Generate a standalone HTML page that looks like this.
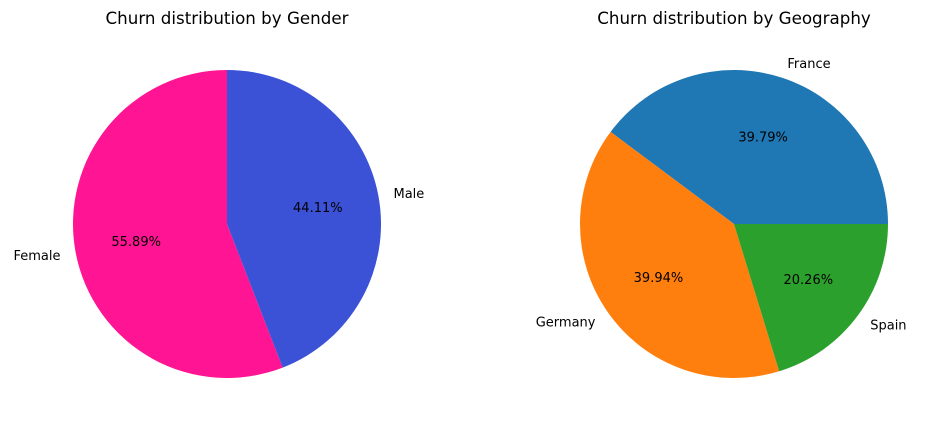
<!DOCTYPE html>
<html><head><meta charset="utf-8"><style>
html,body{margin:0;padding:0;background:#fff;}
svg{display:block;font-family:"DejaVu Sans","Liberation Sans",sans-serif;}
</style></head><body>
<svg id="chart" width="936" height="427" viewBox="0 0 936 427">
<text x="227" y="24" text-anchor="middle" font-size="16.7" fill="#000">Churn distribution by Gender</text>
<text x="734" y="24" text-anchor="middle" font-size="16.7" fill="#000">Churn distribution by Geography</text>
</svg>
<script>
const genderLabels = ["Female", "Male"];
const genderValues = [55.89, 44.11];
const genderColors = ["#ff1493", "#3b52d6"];
const geoLabels = ["France", "Germany", "Spain"];
const geoValues = [39.79, 39.94, 20.26];
const geoColors = ["#1f77b4", "#ff7f0e", "#2ca02c"];

const NS = "http://www.w3.org/2000/svg";
const svg = document.getElementById("chart");

function drawPie(cx, cy, r, labels, values, colors, startDeg, prefix) {
  const total = values.reduce((a, b) => a + b, 0);
  let a = startDeg;
  values.forEach((v, i) => {
    const sweep = v / total * 360;
    const a0 = a * Math.PI / 180, a1 = (a + sweep) * Math.PI / 180;
    const x0 = cx + r * Math.cos(a0), y0 = cy - r * Math.sin(a0);
    const x1 = cx + r * Math.cos(a1), y1 = cy - r * Math.sin(a1);
    const large = sweep > 180 ? 1 : 0;
    const p = document.createElementNS(NS, "path");
    p.setAttribute("d", `M${cx},${cy} L${x0},${y0} A${r},${r} 0 ${large} 0 ${x1},${y1} Z`);
    p.setAttribute("fill", colors[i]);
    
    
    svg.appendChild(p);
    const mid = (a + sweep / 2) * Math.PI / 180;
    const lx = cx + 1.1 * r * Math.cos(mid), ly = cy - 1.1 * r * Math.sin(mid);
    const t = document.createElementNS(NS, "text");
    t.setAttribute("x", lx);
    t.setAttribute("y", ly + 5);
    t.setAttribute("font-size", "13");
    t.setAttribute("text-anchor", Math.cos(mid) >= 0 ? "start" : "end");
    t.textContent = labels[i];
    
    
    svg.appendChild(t);
    const px = cx + 0.6 * r * Math.cos(mid), py = cy - 0.6 * r * Math.sin(mid);
    const pt = document.createElementNS(NS, "text");
    pt.setAttribute("x", px);
    pt.setAttribute("y", py + 5);
    pt.setAttribute("font-size", "13");
    pt.setAttribute("text-anchor", "middle");
    pt.textContent = v.toFixed(2) + "%";
    
    
    svg.appendChild(pt);
    a += sweep;
  });
}
drawPie(227, 224, 154, genderLabels, genderValues, genderColors, 90, "gender");
drawPie(734, 224, 154, geoLabels, geoValues, geoColors, 0, "geo");
</script>
</body></html>
